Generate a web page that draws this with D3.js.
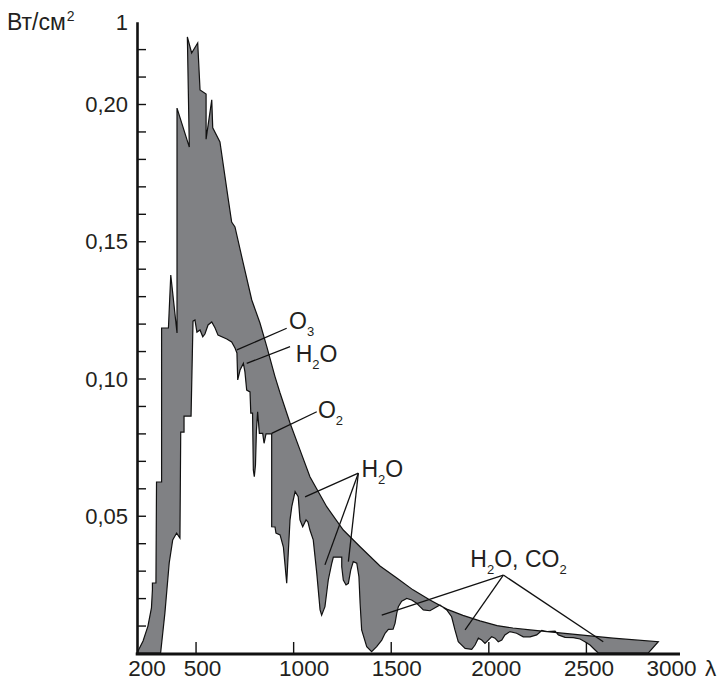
<!DOCTYPE html>
<html>
<head>
<meta charset="utf-8">
<script src="https://cdn.jsdelivr.net/npm/d3@7"></script>
<style>
  body { margin: 0; background: #fff; }
  svg { display: block; }
  text { font-family: "Liberation Sans", Arial, sans-serif; fill: #231f20; }
</style>
</head>
<body>
<div id="chart"></div>
<script>
// solar irradiance above the atmosphere (outer edge of the grey band), nm / W·cm-2
const topWave = [200, 231, 256, 274, 279, 279, 297, 300, 326, 326,
  361, 373, 405, 405, 468, 458, 480, 511, 523, 554,
  554, 583, 588, 625, 666, 685, 702, 743, 788, 830,
  865, 907, 933, 984, 1035, 1086, 1172, 1257, 1343, 1445,
  1531, 1614, 1701, 1787, 1870, 1957, 2045, 2126, 2214, 2301,
  2470, 2639, 2871];
const topVal = [0, 0.0044, 0.0098, 0.0164, 0.0230, 0.0255, 0.0255, 0.0623, 0.0623, 0.1184,
  0.1184, 0.1377, 0.1166, 0.1985, 0.1843, 0.2244, 0.2186, 0.2222, 0.2051, 0.2036,
  0.1872, 0.2015, 0.1913, 0.1862, 0.1661, 0.1570, 0.1552, 0.1424, 0.1286, 0.1202,
  0.1116, 0.1007, 0.0947, 0.0838, 0.0740, 0.0642, 0.0533, 0.0448, 0.0387, 0.0317,
  0.0273, 0.0230, 0.0193, 0.0160, 0.0137, 0.0117, 0.0100, 0.0091, 0.0084, 0.0078,
  0.0066, 0.0054, 0.0041];

// irradiance at sea level (inner edge of the band)
const seaWave = [200, 321, 343, 365, 383, 403, 420, 424, 441, 441,
  477, 487, 497, 507, 523, 537, 548, 564, 583, 600,
  615, 660, 685, 702, 712, 716, 728, 745, 753, 758,
  762, 779, 783, 792, 796, 801, 807, 812, 818, 827,
  844, 851, 861, 890, 890, 907, 912, 933, 950, 967,
  975, 984, 993, 1010, 1026, 1035, 1049, 1066, 1076, 1086,
  1103, 1121, 1138, 1146, 1163, 1180, 1198, 1206, 1249, 1249,
  1257, 1271, 1283, 1295, 1308, 1326, 1337, 1343, 1351, 1377,
  1402, 1428, 1454, 1471, 1488, 1512, 1522, 1531, 1539, 1556,
  1582, 1607, 1633, 1650, 1667, 1701, 1752, 1787, 1812, 1829,
  1846, 1881, 1915, 1932, 1949, 1966, 1983, 2000, 2017, 2034,
  2051, 2069, 2085, 2111, 2145, 2179, 2214, 2248, 2274, 2301,
  2342, 2359, 2393, 2435, 2470, 2495, 2521, 2547, 2563, 2820];
const seaVal = [0, 0, 0.0146, 0.0328, 0.0412, 0.0437, 0.0419, 0.0805, 0.0805, 0.0863,
  0.0863, 0.1209, 0.1213, 0.1169, 0.1177, 0.1152, 0.1162, 0.1195, 0.1206, 0.1184,
  0.1158, 0.1144, 0.1133, 0.1111, 0.1093, 0.0995, 0.1031, 0.1055, 0.1024, 0.0987,
  0.0958, 0.0951, 0.0874, 0.0874, 0.0667, 0.0642, 0.0685, 0.0812, 0.0879, 0.0800,
  0.0800, 0.0764, 0.0798, 0.0798, 0.0460, 0.0459, 0.0437, 0.0430, 0.0386, 0.0254,
  0.0364, 0.0485, 0.0533, 0.0588, 0.0569, 0.0485, 0.0460, 0.0485, 0.0477, 0.0448,
  0.0412, 0.0291, 0.0157, 0.0138, 0.0169, 0.0266, 0.0327, 0.0349, 0.0349, 0.0314,
  0.0266, 0.0248, 0.0254, 0.0302, 0.0333, 0.0327, 0.0278, 0.0182, 0.0084, 0.0023,
  0.0005, 0.0023, 0.0047, 0.0072, 0.0086, 0.0087, 0.0108, 0.0145, 0.0169, 0.0189,
  0.0199, 0.0193, 0.0181, 0.0169, 0.0157, 0.0154, 0.0175, 0.0157, 0.0132, 0.0084,
  0.0041, 0.0017, 0.0013, 0.0029, 0.0054, 0.0047, 0.0035, 0.0047, 0.0059, 0.0054,
  0.0041, 0.0047, 0.0066, 0.0078, 0.0072, 0.0059, 0.0059, 0.0066, 0.0082, 0.0078,
  0.0080, 0.0066, 0.0057, 0.0056, 0.0051, 0.0041, 0.0029, 0.0011, 0, 0];

const xTicks = [500, 1000, 1500, 2000, 2500];
const xLabels = [200, 500, 1000, 1500, 2000, 2500, 3000];
const yLabels = [0.05, 0.10, 0.15, 0.20];
const yMinor = [0.01, 0.02, 0.03, 0.04, 0.05, 0.06, 0.07, 0.08, 0.09, 0.10, 0.11,
  0.12, 0.13, 0.14, 0.15, 0.16, 0.17, 0.18, 0.19, 0.20, 0.21, 0.22];

// absorption band labels: text parts (second item = subscript), label pos, apex, targets
const bandLabels = [
  { parts: [["O"], ["3", 1]], at: [979, 0.1180], apex: [967, 0.1183], to: [[712, 0.1104]] },
  { parts: [["H"], ["2", 1], ["O"]], at: [1013, 0.1060], apex: [984, 0.1116], to: [[762, 0.1055]] },
  { parts: [["O"], ["2", 1]], at: [1127, 0.0856], apex: [1121, 0.0879], to: [[890, 0.0800]] },
  { parts: [["H"], ["2", 1], ["O"]], at: [1350, 0.0641], apex: [1334, 0.0655],
    to: [[1061, 0.0569], [1163, 0.0321], [1283, 0.0333]] },
  { parts: [["H"], ["2", 1], ["O, CO"], ["2", 1]], at: [1908, 0.0313], apex: [2077, 0.0284],
    to: [[1454, 0.0138], [1881, 0.0084], [2589, 0.0041]] }
];

const width = 725, height = 680;

const x = d3.scaleLinear().domain([200, 3000]).range([137, 683.5]);
const y = d3.scaleLinear().domain([0, 0.23]).range([653, 21.65]);

const svg = d3.select("#chart").append("svg")
  .attr("width", width)
  .attr("height", height);

// grey band between the two spectra
const outer = topWave.map((w, i) => [w, topVal[i]]);
const sea = seaWave.map((w, i) => [w, seaVal[i]]);
const line = d3.line().x(d => x(d[0])).y(d => y(d[1]));

svg.append("path")
  .attr("d", line(outer.concat(sea.slice().reverse())) + "Z")
  .attr("fill", "#808184")
  .attr("stroke", "#111")
  .attr("stroke-width", 1.2)
  .attr("stroke-linejoin", "miter");

// leader lines
bandLabels.forEach(b => {
  b.to.forEach(t => {
    svg.append("line")
      .attr("x1", x(b.apex[0])).attr("y1", y(b.apex[1]))
      .attr("x2", x(t[0])).attr("y2", y(t[1]))
      .attr("stroke", "#111")
      .attr("stroke-width", 1.3);
  });

  const txt = svg.append("text")
    .attr("x", x(b.at[0]))
    .attr("y", y(b.at[1]))
    .attr("font-size", 23);
  let down = false;
  b.parts.forEach(p => {
    const ts = txt.append("tspan").text(p[0]);
    if (p[1]) {
      ts.attr("font-size", 13).attr("dy", 7);
      down = true;
    } else if (down) {
      ts.attr("dy", -7);
      down = false;
    }
  });
});

// y axis: ticks pointing into the plot
const yAxis = svg.append("g")
  .attr("transform", `translate(${x(200)},0)`)
  .call(d3.axisRight(y).tickValues(yMinor).tickSize(9).tickSizeOuter(0).tickFormat(""));
yAxis.select(".domain").attr("stroke", "#111").attr("stroke-width", 2.6);
yAxis.selectAll(".tick line").attr("stroke", "#111").attr("stroke-width", 1.4);

// x axis: ticks pointing up
const xAxis = svg.append("g")
  .attr("transform", `translate(0,${y(0) + 1})`)
  .call(d3.axisTop(x).tickValues(xTicks).tickSize(12).tickSizeOuter(0).tickFormat(""));
xAxis.select(".domain").attr("stroke", "#111").attr("stroke-width", 2.8)
  .attr("d", `M${x(200) - 1.3},0H${x(2982)}`);
xAxis.selectAll(".tick line").attr("stroke", "#111").attr("stroke-width", 1.4);

// tick labels (set by hand in the source, slightly right of the ticks)
const nudge = { 200: 10, 500: 7, 1000: 11, 1500: 6, 2000: 8, 2500: 3, 3000: -12 };
svg.append("g").selectAll("text")
  .data(xLabels)
  .join("text")
  .attr("x", d => x(d) + nudge[d])
  .attr("y", 675.5)
  .attr("text-anchor", "middle")
  .attr("font-size", 22.5)
  .text(d => d);

svg.append("text")
  .attr("x", 705).attr("y", 675.5)
  .attr("font-size", 22.5)
  .text("λ");

svg.append("g").selectAll("text")
  .data(yLabels)
  .join("text")
  .attr("x", 128)
  .attr("y", d => y(d) + 8)
  .attr("text-anchor", "end")
  .attr("font-size", 22)
  .text(d => d3.format(".2f")(d).replace(".", ","));

svg.append("text")
  .attr("x", 128).attr("y", y(0.23) + 8.5)
  .attr("text-anchor", "end")
  .attr("font-size", 22)
  .text("1");

const unit = svg.append("text")
  .attr("x", 7).attr("y", 30)
  .attr("font-size", 23);
unit.append("tspan").text("Вт/см");
unit.append("tspan").attr("font-size", 14).attr("dx", 1).attr("dy", -9).text("2");
</script>
</body>
</html>
